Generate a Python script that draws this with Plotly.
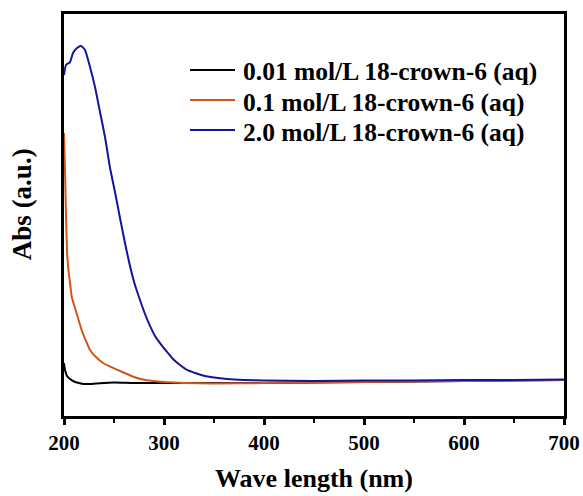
import plotly.graph_objects as go

# UV-Vis absorbance spectra of aqueous 18-crown-6 at three concentrations
wl_001 = [200, 201, 203, 206, 210, 215, 220, 226, 232, 240, 250, 270, 300, 400, 500, 600, 700]
abs_001 = [0.527, 0.458, 0.398, 0.368, 0.343, 0.328, 0.318, 0.318, 0.323, 0.328, 0.333,
           0.328, 0.328, 0.328, 0.338, 0.348, 0.358]

wl_01 = [200, 201, 202, 203, 204, 206, 208, 211, 214, 218, 222, 226, 232, 239, 249, 256,
         263, 270, 279, 289, 300, 320, 350, 400, 450, 500, 600, 700]
abs_01 = [2.816, 2.448, 2.000, 1.652, 1.502, 1.323, 1.174, 1.075, 0.975, 0.846, 0.746,
          0.657, 0.587, 0.527, 0.478, 0.448, 0.418, 0.388, 0.363, 0.348, 0.338, 0.328,
          0.323, 0.328, 0.333, 0.338, 0.348, 0.358]

wl_20 = [200, 202, 206, 209, 213, 217, 221, 226, 231, 236, 241, 246, 251, 256, 261, 266,
         271, 276, 281, 286, 291, 296, 303, 309, 316, 323, 331, 339, 350, 363, 380, 400,
         450, 500, 550, 600, 650, 700]
abs_20 = [3.393, 3.493, 3.522, 3.612, 3.662, 3.682, 3.642, 3.473, 3.274, 3.025, 2.776,
          2.470, 2.229, 1.970, 1.721, 1.493, 1.303, 1.154, 1.015, 0.896, 0.796, 0.726,
          0.637, 0.567, 0.507, 0.458, 0.428, 0.403, 0.383, 0.368, 0.358, 0.353, 0.348,
          0.353, 0.353, 0.358, 0.358, 0.363]

names = ["0.01 mol/L 18-crown-6 (aq)", "0.1 mol/L 18-crown-6 (aq)", "2.0 mol/L 18-crown-6 (aq)"]
colors = ["#000000", "#D0561A", "#14149C"]

FONT = "Liberation Serif"

fig = go.Figure()
for x, y, name, c in zip([wl_001, wl_01, wl_20], [abs_001, abs_01, abs_20], names, colors):
    fig.add_trace(go.Scatter(x=x, y=y, mode="lines", name=name, showlegend=False,
                             line=dict(color=c, width=2, shape="spline", smoothing=0.5)))

fig.update_layout(
    width=583, height=496,
    margin=dict(l=64, r=19, t=14, b=80, autoexpand=False),
    plot_bgcolor="white", paper_bgcolor="white",
    font=dict(family=FONT, color="black"),
    showlegend=False,
)

fig.update_xaxes(
    range=[200, 700], showgrid=False, zeroline=False, automargin=False,
    showline=True, linecolor="black", linewidth=2.5, mirror=True,
    ticks="outside", tickwidth=2.5, ticklen=6, tickcolor="black",
    dtick=100, tick0=200,
    minor=dict(ticks="outside", dtick=50, ticklen=4, tickwidth=2, tickcolor="black"),
    tickfont=dict(family=FONT, size=21, color="black", weight="bold"),
    title=dict(text="Wave length (nm)", standoff=15,
               font=dict(family=FONT, size=26, color="black", weight="bold")),
)
fig.update_yaxes(
    range=[0, 4.0], showgrid=False, zeroline=False, automargin=False,
    showline=True, linecolor="black", linewidth=2.5, mirror=True,
    ticks="", showticklabels=False,
)

# Legend: a short line sample and a bold label per series, in paper coordinates
leg_x0, leg_x1, leg_tx = 0.252, 0.342, 0.354
leg_line_y = [0.8607, 0.786, 0.7114]
leg_text_y = [0.856, 0.781, 0.706]
for name, c, ly, ty in zip(names, colors, leg_line_y, leg_text_y):
    fig.add_shape(type="line", xref="paper", yref="paper",
                  x0=leg_x0, x1=leg_x1, y0=ly, y1=ly, line=dict(color=c, width=2))
    fig.add_annotation(text=name, showarrow=False, xref="paper", yref="paper",
                       x=leg_tx, y=ty, xanchor="left", yanchor="middle",
                       font=dict(family=FONT, size=25.5, color="black", weight="bold"))

fig.add_annotation(
    text="Abs (a.u.)", textangle=-90, showarrow=False,
    xref="paper", yref="paper", x=-0.084, y=0.527, xanchor="center", yanchor="middle",
    font=dict(family=FONT, size=27, color="black", weight="bold"),
)

fig.write_html("out.html")
